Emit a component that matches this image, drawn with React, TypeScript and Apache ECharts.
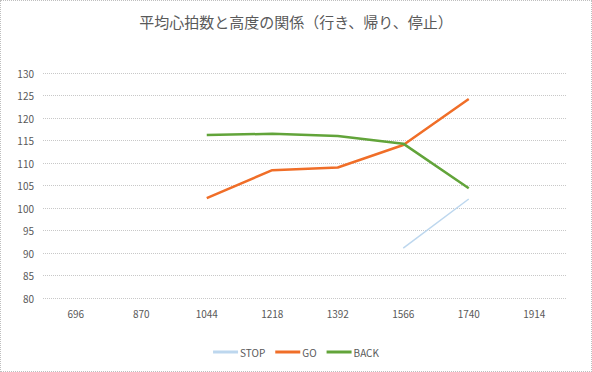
import React, { useEffect, useRef } from "react";
import * as echarts from "echarts";

const categories = ["696", "870", "1044", "1218", "1392", "1566", "1740", "1914"];
const stopValues: (number | null)[] = [null, null, null, null, null, 91.1, 102, null];
const goValues: (number | null)[] = [null, null, 102.2, 108.4, 109, 114, 124.2, null];
const backValues: (number | null)[] = [null, null, 116.2, 116.5, 116, 114.3, 104.4, null];
const yTicks = { min: 80, max: 130, interval: 5 };

export default function App() {
  const ref = useRef<HTMLDivElement>(null);
  useEffect(() => {
    document.body.style.margin = "0";
    const chart = echarts.init(ref.current!, undefined, { renderer: "svg" });
    const font = "'Noto Sans CJK JP', 'Noto Sans', sans-serif";
    chart.setOption({
      animation: false,
      backgroundColor: "#ffffff",
      title: {
        text: "平均心拍数と高度の関係（行き、帰り、停止）",
        left: "center",
        top: 8,
        textStyle: { fontFamily: font, fontSize: 15, fontWeight: "normal", color: "#595959" },
      },
      legend: {
        bottom: 9,
        left: "center",
        icon: "rect",
        itemWidth: 25,
        itemHeight: 3,
        itemGap: 10,
        textStyle: { fontFamily: font, fontSize: 10, color: "#595959", padding: [0, 0, 0, -3] },
        data: ["STOP", "GO", "BACK"],
      },
      grid: { left: 42, right: 24, top: 72, bottom: 73, containLabel: false },
      xAxis: {
        type: "category",
        data: categories,
        boundaryGap: true,
        axisLine: { show: false },
        axisTick: { show: false },
        axisLabel: { fontFamily: font, fontSize: 10, color: "#595959", margin: 10 },
      },
      yAxis: {
        type: "value",
        min: yTicks.min,
        max: yTicks.max,
        interval: yTicks.interval,
        axisLine: { show: false },
        axisTick: { show: false },
        axisLabel: { fontFamily: font, fontSize: 10, color: "#595959", margin: 9 },
        splitLine: { lineStyle: { color: "#c8c8c8", type: [1, 1], width: 1 } },
      },
      series: [
        {
          name: "STOP",
          type: "line",
          data: stopValues,
          symbol: "none",
          lineStyle: { color: "#bdd7ee", width: 1.5 },
          itemStyle: { color: "#bdd7ee" },
        },
        {
          name: "GO",
          type: "line",
          data: goValues,
          symbol: "none",
          lineStyle: { color: "#f06e28", width: 2.5 },
          itemStyle: { color: "#f06e28" },
        },
        {
          name: "BACK",
          type: "line",
          data: backValues,
          symbol: "none",
          lineStyle: { color: "#62a43a", width: 2.5 },
          itemStyle: { color: "#62a43a" },
        },
      ],
    });
    return () => chart.dispose();
  }, []);
  return (
    <div
      style={{
        width: 592,
        height: 372,
        boxSizing: "border-box",
        border: "1px dotted #bfbfbf",
        position: "relative",
      }}
    >
      <div ref={ref} style={{ width: 590, height: 370 }} />
    </div>
  );
}
